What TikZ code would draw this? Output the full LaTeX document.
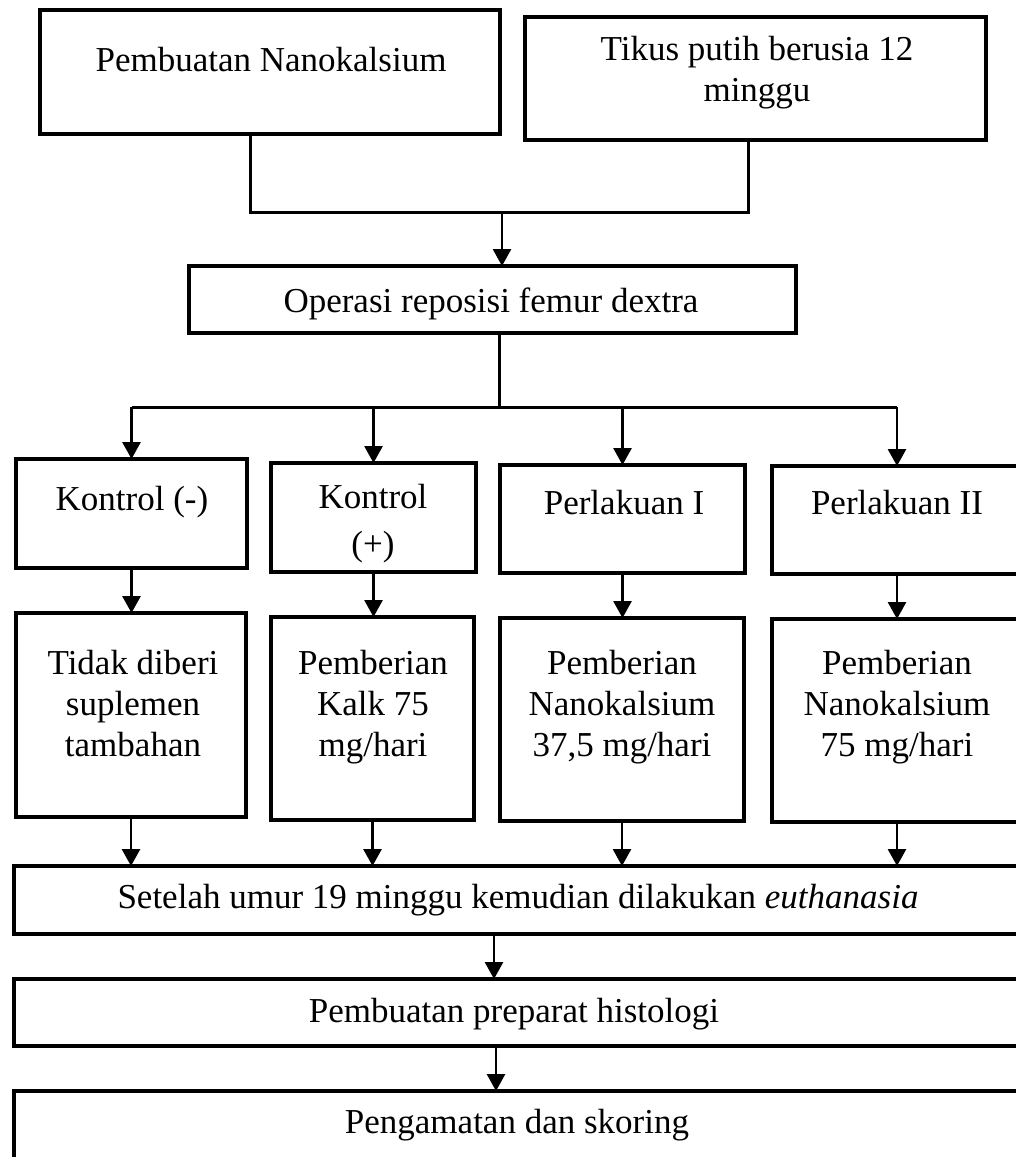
\documentclass[tikz,border=0pt]{standalone}
\usepackage{fontspec}
\setmainfont{Liberation Serif}
\usepackage{tikz}
\usetikzlibrary{calc}
\usetikzlibrary{arrows.meta}
\newcommand{\stagebox}[5]{\node[flowbox, minimum width={(#4-#2)*0.5pt}, minimum height={(#5-#3)*0.5pt}] (#1) at ({(#2+#4)/2},{(#3+#5)/2}) {};}

\begin{document}
\begin{tikzpicture}[x=0.5pt,y=-0.5pt,
    flowbox/.style={draw, line width=1.7pt, inner sep=0pt, outer sep=0pt},
    flowtext/.style={font=\fontsize{17.5}{20.5}\selectfont, align=center, inner sep=0pt},
    flowline/.style={line width=1.5pt},
    flowarrow/.style={line width=1.4pt, -{Triangle[width=9pt,length=8.5pt]}}]
    \useasboundingbox (0,0) rectangle (1016,1157);
    \clip (0,0) rectangle (1016,1157);
    \stagebox{nano}{40}{10}{500}{134}
    \stagebox{tikus}{525}{17}{986}{140}
    \stagebox{op}{189}{266}{796}{333}
    \stagebox{kneg}{16}{459}{247}{568}
    \stagebox{kpos}{271}{463}{476}{572}
    \stagebox{pI}{500}{465}{745}{573}
    \stagebox{pII}{772}{466}{1022}{574}
    \stagebox{kneg-b}{16}{613}{246}{817}
    \stagebox{kpos-b}{271}{617}{474}{820}
    \stagebox{pI-b}{500}{618}{744}{821}
    \stagebox{pII-b}{772}{619}{1022}{822}
    \stagebox{eut}{14}{866}{1022}{934}
    \stagebox{hist}{14}{979}{1022}{1046}
    \stagebox{skor}{14}{1091}{1022}{1170}
    \node[flowtext] (nano-t) at (271,60) {Pembuatan Nanokalsium};
    \node[flowtext] (tikus-t) at (757,73) {Tikus putih berusia 12\\minggu};
    \node[flowtext] (op-t) at (491,304) {Operasi reposisi femur dextra};
    \node[flowtext] (kneg-t) at (132,502) {Kontrol (-)};
    \node[flowtext] (kpos-t) at (373,524) {Kontrol\\[3pt](+)};
    \node[flowtext] (pI-t) at (624,503) {Perlakuan I};
    \node[flowtext] (pII-t) at (897,503) {Perlakuan II};
    \node[flowtext] (kneg-bt) at (133,704) {Tidak diberi\\suplemen\\tambahan};
    \node[flowtext] (kpos-bt) at (373,707) {Pemberian\\Kalk 75\\mg/hari};
    \node[flowtext] (pI-bt) at (622,707) {Pemberian\\Nanokalsium\\37,5 mg/hari};
    \node[flowtext] (pII-bt) at (897,707) {Pemberian\\Nanokalsium\\75 mg/hari};
    \node[flowtext] (eut-t) at (518,900) {Setelah umur 19 minggu kemudian dilakukan \textit{euthanasia}};
    \node[flowtext] (hist-t) at (514,1014) {Pembuatan preparat histologi};
    \node[flowtext] (skor-t) at (517,1125) {Pengamatan dan skoring};
    \coordinate (ja) at (250,212);
    \coordinate (jb) at (748,212);
    \coordinate (join) at (502,212);
    \coordinate (split) at (499,407);
    \draw[flowline] (nano.south -| ja) -- (ja) -- (jb) -- (tikus.south -| jb);
    \draw[flowarrow] (join) -- (join |- op.north);
    \draw[flowline] (split |- op.south) -- (split);
    \draw[flowline] (kneg.north |- split) -- (pII.north |- split);
    \foreach \g in {kneg,kpos,pI,pII}
    {
        \draw[flowarrow] (\g.north |- split) -- (\g.north);
        \draw[flowarrow] (\g.south) -- (\g.south |- \g-b.north);
        \draw[flowarrow] (\g-b.south) -- (\g-b.south |- eut.north);
    }
    \draw[flowarrow] ($(eut.south)+(-24,0)$) -- ($(hist.north)+(-24,0)$);
    \draw[flowarrow] ($(hist.south)+(-22,0)$) -- ($(skor.north)+(-22,0)$);
\end{tikzpicture}
\end{document}
